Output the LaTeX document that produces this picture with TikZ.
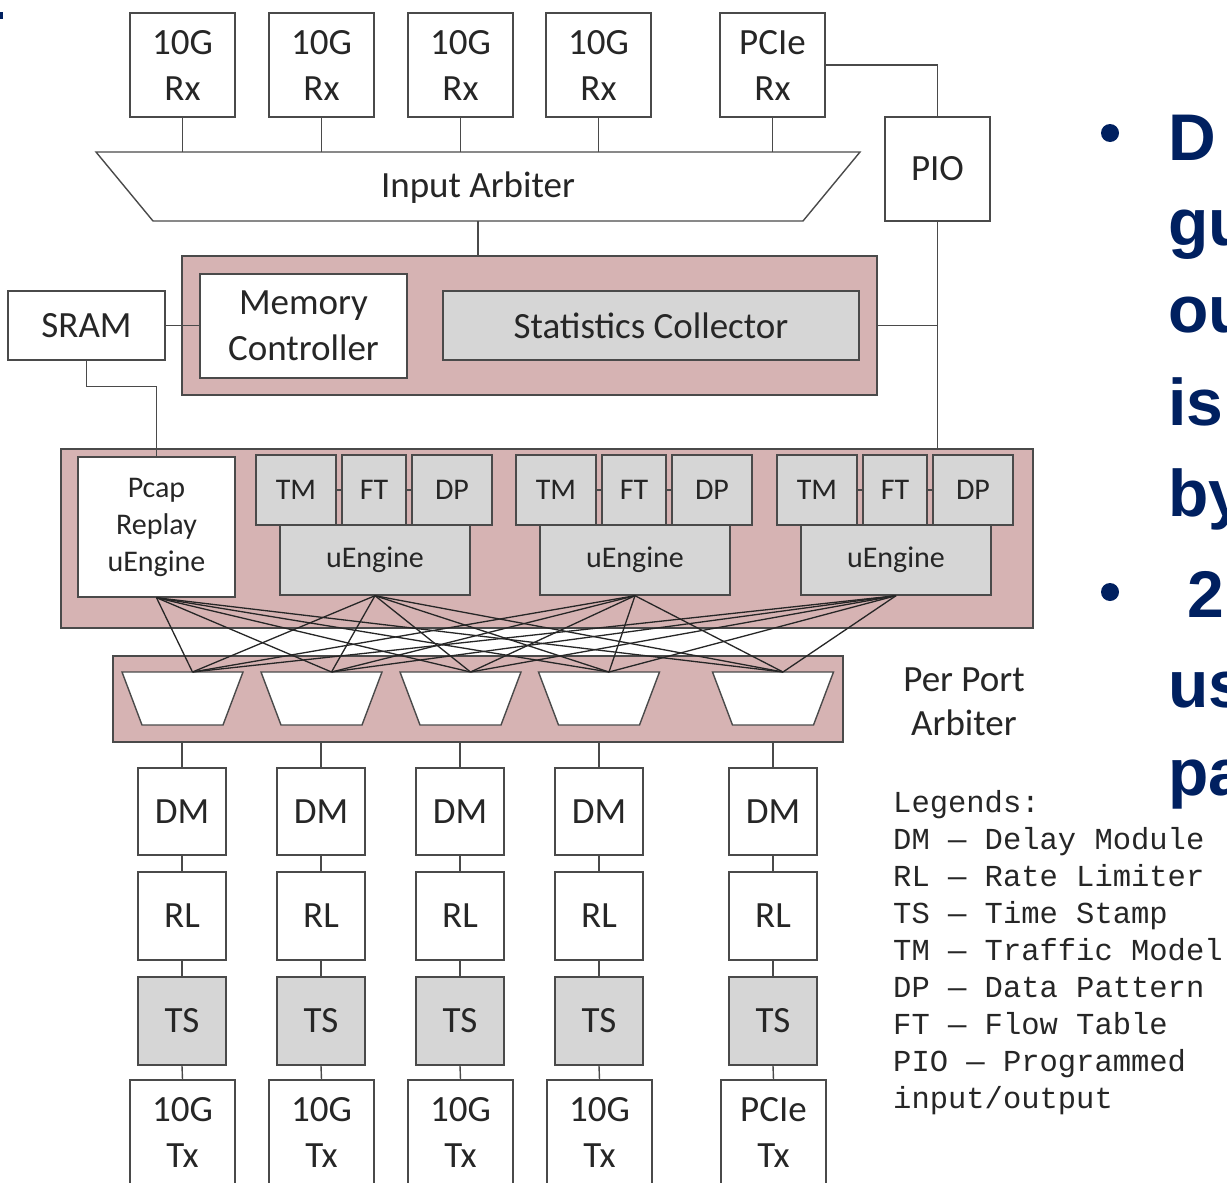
\documentclass[tikz,border=0pt]{standalone}
\usepackage{fontspec}
\setmainfont{Carlito}
\newfontfamily\legfont{Liberation Mono}
\newfontfamily\slidefont{Liberation Sans}
\definecolor{linec}{HTML}{4A4A4A}
\definecolor{txtc}{HTML}{262626}
\definecolor{pinkf}{HTML}{D6B3B3}
\definecolor{grayf}{HTML}{D6D6D6}
\definecolor{navy}{HTML}{002060}
\tikzset{
  ln/.style={draw=linec, line width=1.4pt},
  bx/.style={draw=linec, line width=1.4pt, fill=white, text=txtc, align=center, inner sep=0pt, font=\fontsize{37}{46}\selectfont},
  gbx/.style={bx, fill=grayf},
  ebx/.style={bx, fill=grayf, font=\fontsize{30}{37}\selectfont},
  pinkbox/.style={draw=linec, line width=1.4pt, fill=pinkf, inner sep=0pt},
  xl/.style={draw=black!85, line width=1.3pt},
  legend/.style={anchor=base west, inner sep=0pt, text=txtc, font=\legfont\fontsize{30.5}{37}\selectfont},
  slide/.style={anchor=base west, inner sep=0pt, text=navy, font=\slidefont\bfseries\fontsize{66}{80}\selectfont},
}
\begin{document}
\begin{tikzpicture}[x=1pt,y=-1pt]
\useasboundingbox (0,0) rectangle (1227,1183);
\clip (0,0) rectangle (1227,1183);
\fill[white] (0,0) rectangle (1227,1183);
\fill[navy] (0,12) rectangle (3,19);

% ---- top Rx boxes
\foreach \i/\x/\t in {1/182.5/10G,2/321.5/10G,3/460.5/10G,4/598.5/10G,5/772.5/PCIe}
  \node[bx, minimum width=105pt, minimum height=104pt] (rx\i) at (\x,65) {\t\\Rx};

% ---- Input arbiter
\draw[ln, fill=white] (96,152) -- (860,152) -- (803,221) -- (153,221) -- cycle;
\node[text=txtc, font=\fontsize{37}{46}\selectfont, inner sep=0pt] (ialabel) at (478,188) {Input Arbiter};
\coordinate (iat) at (478,152);
\coordinate (iab) at (478,221);

% ---- PIO
\node[bx, minimum width=105pt, minimum height=104pt] (pio) at (937.5,169) {PIO};

% ---- memory / statistics block
\node[pinkbox, minimum width=695pt, minimum height=139pt] (mem) at (529.5,325.5) {};
\node[bx, minimum width=207pt, minimum height=104pt] (memc) at (303.5,326) {Memory\\Controller};
\node[gbx, minimum width=416pt, minimum height=69pt] (stats) at (651,325.5) {Statistics Collector};
\node[bx, minimum width=157pt, minimum height=69pt] (sram) at (86.5,325.5) {SRAM};

% ---- engines block
\node[pinkbox, minimum width=972pt, minimum height=179pt] (eng) at (547,538.5) {};
\node[bx, font=\fontsize{30}{37}\selectfont, minimum width=157pt, minimum height=140pt] (pcap) at (156.5,527) {Pcap\\Replay\\uEngine};
\foreach \g/\dx in {1/0,2/260,3/521}{
  \node[ebx, minimum width=80pt, minimum height=70pt] (tm\g) at (296+\dx,490) {TM};
  \node[ebx, minimum width=64pt, minimum height=70pt] (ft\g) at (374+\dx,490) {FT};
  \node[ebx, minimum width=80pt, minimum height=70pt] (dp\g) at (452+\dx,490) {DP};
  \node[ebx, minimum width=190pt, minimum height=70pt] (ue\g) at (375+\dx,560) {uEngine};
  \draw[ln] (tm\g.east) -- (ft\g.west);
  \draw[ln] (ft\g.east) -- (dp\g.west);
}

% ---- per port arbiter block
\node[pinkbox, minimum width=730pt, minimum height=86pt] (ppa) at (478,699) {};
\foreach \i/\x in {1/182.5,2/321.5,3/460.5,4/599,5/773}{
  \draw[ln, fill=white] (\x-60.5,672) -- (\x+60.5,672) -- (\x+40.5,725) -- (\x-40.5,725) -- cycle;
  \coordinate (ain\i) at (\x+10,672);
}
\node[text=txtc, font=\fontsize{37}{44}\selectfont, align=center, inner sep=0pt] (ppalabel) at (964,702) {Per Port\\Arbiter};

% ---- crossbar lines
\foreach \e in {pcap,ue1,ue2,ue3}
  \foreach \a in {1,...,5}
    \draw[xl] (\e.south) -- (ain\a);

% ---- output columns
\foreach \i/\x/\t in {1/182/10G,2/321/10G,3/460/10G,4/599/10G,5/773/PCIe}{
  \node[bx, minimum width=88pt, minimum height=87pt] (dm\i) at (\x,811.5) {DM};
  \node[bx, minimum width=88pt, minimum height=88pt] (rl\i) at (\x,916) {RL};
  \node[gbx, minimum width=88pt, minimum height=88pt] (ts\i) at (\x,1021) {TS};
  \node[bx, minimum width=105pt, minimum height=104pt] (tx\i) at (\x+0.5,1132) {\t\\Tx};
  \draw[ln] (ppa.south -| dm\i.north) -- (dm\i.north);
  \draw[ln] (dm\i.south) -- (rl\i.north);
  \draw[ln] (rl\i.south) -- (ts\i.north);
  \draw[ln] (ts\i.south) -- (tx\i.north);
}

% ---- connectors
\foreach \i in {1,...,5}
  \draw[ln] (rx\i.south) -- (rx\i.south |- iat);
\draw[ln] (iab) -- (iab |- mem.north);
\draw[ln] (rx5.east) -| (pio.north);
\draw[ln] (pio.south) -- (pio.south |- eng.north);
\draw[ln] (mem.east) -- (mem.east -| pio.south);
\draw[ln] (sram.east) -- (sram.east -| memc.west);
\draw[ln] (sram.south) -- ++(0,26) -| (pcap.north);

% ---- legend
\node[legend] (lg0) at (893,812) {Legends:};
\node[legend] (lg1) at (893,849) {DM — Delay Module};
\node[legend] (lg2) at (893,886) {RL — Rate Limiter};
\node[legend] (lg3) at (893,923) {TS — Time Stamp};
\node[legend] (lg4) at (893,960) {TM — Traffic Model};
\node[legend] (lg5) at (893,997) {DP — Data Pattern};
\node[legend] (lg6) at (893,1034) {FT — Flow Table};
\node[legend] (lg7) at (893,1071) {PIO — Programmed};
\node[legend] (lg8) at (893,1108) {input/output};

% ---- clipped slide text
\fill[navy] (1110,133) circle (9);
\fill[navy] (1110,592) circle (9);
\node[slide] (s1) at (1168,160) {D};
\node[slide] (s2) at (1168,245) {gu};
\node[slide] (s3) at (1168,332) {ou};
\node[slide] (s4) at (1168,425) {is};
\node[slide] (s5) at (1168,516) {by};
\node[slide] (s6) at (1187,617) {2};
\node[slide] (s7) at (1168,707) {us};
\node[slide] (s8) at (1168,795) {pa};
\end{tikzpicture}
\end{document}
